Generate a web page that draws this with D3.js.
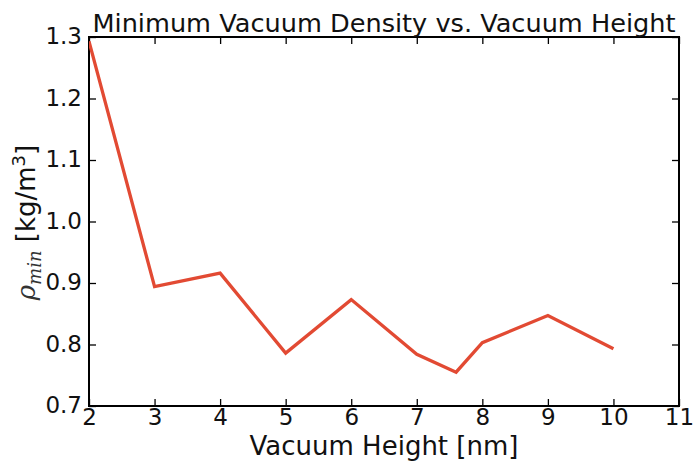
<!DOCTYPE html>
<html>
<head>
<meta charset="utf-8">
<script src="https://cdn.jsdelivr.net/npm/d3@7"></script>
<style>
  html, body { margin: 0; padding: 0; background: #fff; }
  svg { display: block; font-family: "DejaVu Sans", sans-serif; }
</style>
</head>
<body>
<svg id="chart" width="693" height="463"></svg>
<script>
// Minimum vacuum density for each vacuum height
const heights = [2, 3, 4, 5, 6, 7, 7.6, 8, 9, 10];
const densities = [1.293, 0.894, 0.916, 0.786, 0.873, 0.784, 0.755, 0.803, 0.847, 0.793];
const xTicks = [2, 3, 4, 5, 6, 7, 8, 9, 10, 11];
const yTicks = [0.7, 0.8, 0.9, 1.0, 1.1, 1.2, 1.3];

const svg = d3.select("#chart");
const m = { left: 89, right: 679, top: 37, bottom: 406 };

const x = d3.scaleLinear().domain([2, 11]).range([m.left, m.right]);
const y = d3.scaleLinear().domain([0.7, 1.3]).range([m.bottom, m.top]);

const tickLen = 7;
const tickFont = 23;
const labelFont = 26;

// Axes: ticks point inward on all four sides
const axBottom = svg.append("g").attr("transform", `translate(0,${m.bottom})`)
  .call(d3.axisBottom(x).tickValues(xTicks).tickFormat(d3.format("d")).tickSizeInner(-tickLen).tickSizeOuter(0).tickPadding(3));
const axTop = svg.append("g").attr("transform", `translate(0,${m.top})`)
  .call(d3.axisTop(x).tickValues(xTicks).tickFormat("").tickSizeInner(-tickLen).tickSizeOuter(0));
const axLeft = svg.append("g").attr("transform", `translate(${m.left},0)`)
  .call(d3.axisLeft(y).tickValues(yTicks).tickFormat(d3.format(".1f")).tickSizeInner(-tickLen).tickSizeOuter(0).tickPadding(7));
const axRight = svg.append("g").attr("transform", `translate(${m.right},0)`)
  .call(d3.axisRight(y).tickValues(yTicks).tickFormat("").tickSizeInner(-tickLen).tickSizeOuter(0));

[axBottom, axTop, axLeft, axRight].forEach(g => {
  g.select(".domain").remove();
  g.selectAll(".tick line").attr("stroke", "#000").attr("stroke-width", 1.3);
  g.selectAll(".tick text").attr("fill", "#111").style("font-size", tickFont + "px")
    .style("font-family", '"DejaVu Sans", sans-serif');
});
axBottom.selectAll(".tick text").attr("dy", "0.71em");
axLeft.selectAll(".tick text").attr("dy", "0.3em");

// Frame
svg.append("rect")
  .attr("x", m.left).attr("y", m.top)
  .attr("width", m.right - m.left).attr("height", m.bottom - m.top)
  .attr("fill", "none").attr("stroke", "#000").attr("stroke-width", 2);

// Data line
const clipId = "plot-clip";
svg.append("clipPath").attr("id", clipId).append("rect")
  .attr("x", m.left).attr("y", m.top).attr("width", m.right - m.left).attr("height", m.bottom - m.top);

svg.append("path")
  .datum(heights.map((h, i) => [h, densities[i]]))
  .attr("clip-path", `url(#${clipId})`)
  .attr("fill", "none")
  .attr("stroke", "#E24A33")
  .attr("stroke-width", 3.3)
  .attr("stroke-linejoin", "miter")
  .attr("d", d3.line().x(d => x(d[0])).y(d => y(d[1])));

// Title
svg.append("text")
  .attr("x", (m.left + m.right) / 2).attr("y", 32)
  .attr("text-anchor", "middle")
  .style("font-size", "25.6px").attr("fill", "#111")
  .text("Minimum Vacuum Density vs. Vacuum Height");

// X label
svg.append("text")
  .attr("x", (m.left + m.right) / 2).attr("y", 455)
  .attr("text-anchor", "middle")
  .style("font-size", labelFont + "px").attr("fill", "#111")
  .text("Vacuum Height [nm]");

// Y label: rho_min [kg/m^3]
const yl = svg.append("text")
  .attr("transform", `translate(35,${(m.top + m.bottom) / 2 + 1}) rotate(-90)`)
  .attr("text-anchor", "middle")
  .style("font-size", labelFont + "px").attr("fill", "#111");
yl.append("tspan").style("font-family", '"DejaVu Serif", serif').style("font-style", "italic").attr("fill", "#333").text("ρ");
yl.append("tspan").attr("dy", 6).style("font-family", '"DejaVu Serif", serif').style("font-style", "italic").attr("fill", "#333").style("font-size", "18px").text("min");
yl.append("tspan").attr("dy", -6).text(" [kg/m");
yl.append("tspan").attr("dy", -10).style("font-size", "18px").text("3");
yl.append("tspan").attr("dy", 10).text("]");
</script>
</body>
</html>
